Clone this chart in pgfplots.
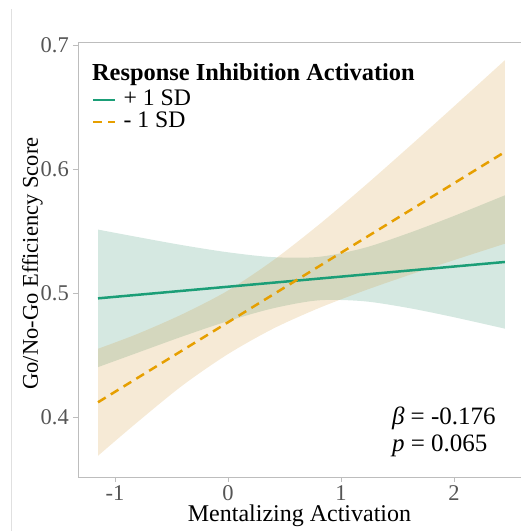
\documentclass[border=0pt]{standalone}
\usepackage{fontspec}
\setmainfont{Liberation Serif}
\usepackage{pgfplots}
\pgfplotsset{compat=1.18}
\usepgfplotslibrary{fillbetween}
\definecolor{Teal}{HTML}{1B9E77}
\definecolor{Amber}{HTML}{E69F00}
\definecolor{TealBand}{RGB}{45,140,105}
\definecolor{AmberBand}{RGB}{210,150,50}
\definecolor{Frame}{HTML}{BDBDBD}
\definecolor{TickGray}{HTML}{555555}

\begin{document}
\begin{tikzpicture}
\begin{axis}[
  name=ax,
  scale only axis, width=443pt, height=435pt,
  xmin=-1.327, xmax=2.593, ymin=0.352, ymax=0.7024,
  axis x line*=bottom, axis y line*=left,
  axis line style={Frame, line width=0.8pt, -},
  xtick={-1,0,1,2}, xticklabels={-1,0,1,2},
  ytick={0.4,0.5,0.6,0.7}, yticklabels={0.4,0.5,0.6,0.7},
  tick align=outside, major tick length=5pt,
  tick style={Frame, line width=0.8pt},
  ticklabel style={font=\fontsize{22.5}{26}\selectfont, text=TickGray, inner sep=1pt, text depth=0pt},
  xticklabel style={yshift=-2pt},
  yticklabel style={xshift=-3pt},
  xlabel={Mentalizing Activation},
  ylabel={Go/No-Go Efficiency Score},
  every axis x label/.style={at={(rel axis cs:0.5,0)}, anchor=base, yshift=-44.7pt, inner sep=0pt, font=\fontsize{24}{28}\selectfont},
  every axis y label/.style={at={(rel axis cs:0,0.5)}, xshift=-40pt, yshift=-4pt, rotate=90, anchor=base, inner sep=0pt, font=\fontsize{22.5}{27}\selectfont},
  legend style={at={(axis cs:-1.204,0.6646)}, anchor=north west, draw=none, fill=none,
    inner sep=0pt, row sep=0pt, column sep=7pt, font=\fontsize{23.7}{27}\selectfont,
    nodes={inner sep=0pt, text height=16pt, text depth=6pt}},
  legend cell align=left,
  legend image code/.code={\draw[#1] (0pt,0pt) -- (22pt,0pt);},
]
% ribbons (95% bands)
\addplot[name path=gu, draw=none, smooth, forget plot] coordinates {
  (-1.15,0.5513) (-0.8,0.5453) (-0.4,0.5387) (0,0.5330) (0.4,0.5291)
  (0.8,0.5293) (1.2,0.5364) (1.6,0.5485) (2.0,0.5623) (2.45,0.5789)};
\addplot[name path=gl, draw=none, smooth, forget plot] coordinates {
  (-1.15,0.4405) (-0.8,0.4521) (-0.4,0.4653) (0,0.4776) (0.4,0.4879)
  (0.8,0.4943) (1.2,0.4936) (1.6,0.4881) (2.0,0.4807) (2.45,0.4715)};
\addplot[name path=ou, draw=none, smooth, forget plot] coordinates {
  (-1.15,0.4553) (-0.8,0.4673) (-0.4,0.4833) (0,0.5022) (0.4,0.5265)
  (0.8,0.5549) (1.2,0.5857) (1.6,0.6178) (2.0,0.6505) (2.45,0.6877)};
\addplot[name path=ol, draw=none, smooth, forget plot] coordinates {
  (-1.15,0.3691) (-0.8,0.3963) (-0.4,0.4259) (0,0.4510) (0.4,0.4715)
  (0.8,0.4879) (1.2,0.5019) (1.6,0.5146) (2.0,0.5267) (2.45,0.5399)};
\addplot[TealBand, fill opacity=0.2, forget plot] fill between[of=gu and gl];
\addplot[AmberBand, fill opacity=0.2, forget plot] fill between[of=ou and ol];
% fitted lines
\addplot[Teal, line width=2.5pt] coordinates {(-1.15,0.4959) (2.45,0.5252)};
\addplot[Amber, line width=2.5pt, dash pattern=on 9pt off 6pt] coordinates {(-1.15,0.4122) (2.45,0.6138)};
\legend{+ 1 SD, - 1 SD}
\node[anchor=base west, inner sep=0pt, font=\bfseries\fontsize{24.4}{28}\selectfont] at (axis cs:-1.204,0.671) {Response Inhibition Activation};
\node[anchor=base west, inner sep=0pt, font=\fontsize{25}{29}\selectfont] at (axis cs:1.45,0.3944) {\textit{β} = -0.176};
\node[anchor=base west, inner sep=0pt, font=\fontsize{25}{29}\selectfont] at (axis cs:1.45,0.3726) {\textit{p} = 0.065};
\end{axis}
\draw[Frame, line width=0.8pt] (ax.north west) -- (ax.north east);
\draw[black!12, line width=1pt] ([xshift=-66pt,yshift=33pt]ax.north west) -- ([xshift=-66pt,yshift=-54pt]ax.south west);
\pgfresetboundingbox
\path[use as bounding box] ([xshift=-78pt,yshift=-54pt]ax.south west) rectangle ([yshift=42pt]ax.north east);
\end{tikzpicture}
\end{document}
